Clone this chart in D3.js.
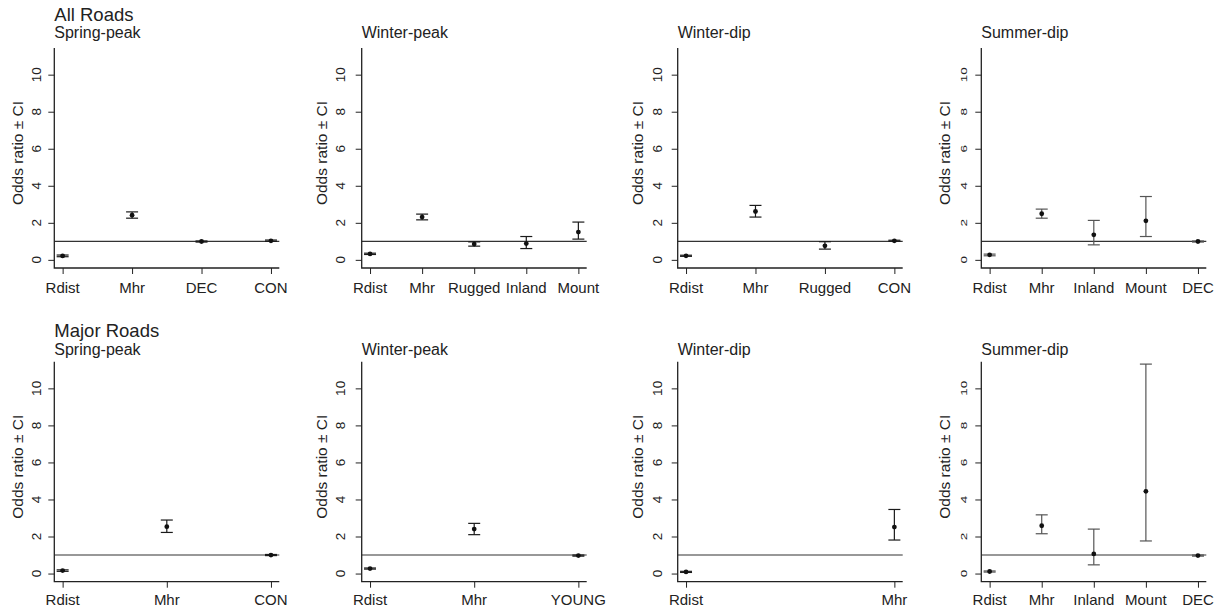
<!DOCTYPE html>
<html>
<head>
<meta charset="utf-8">
<script src="https://cdn.jsdelivr.net/npm/d3@7"></script>
<style>
  html, body { margin: 0; padding: 0; background: #fff; }
  svg { display: block; font-family: "Liberation Sans", Arial, sans-serif; }
</style>
</head>
<body>
<svg id="chart" width="1227" height="610"></svg>
<script>
// ---------- data ----------
const rowTitles = ["All Roads", "Major Roads"];
const panelNames = ["Spring-peak", "Winter-peak", "Winter-dip", "Summer-dip"];
const yTicks = [0, 2, 4, 6, 8, 10];
const yDomain = [-0.44, 11.44];
const refValue = 1;

// All roads
const allSpringCats = ["Rdist", "Mhr", "DEC", "CON"];
const allSpringOR   = [0.21, 2.41, 0.99, 1.03];
const allSpringLo   = [0.17, 2.25, 0.96, 1.00];
const allSpringHi   = [0.26, 2.59, 1.02, 1.07];

const allWPeakCats = ["Rdist", "Mhr", "Rugged", "Inland", "Mount"];
const allWPeakOR   = [0.32, 2.31, 0.85, 0.88, 1.50];
const allWPeakLo   = [0.29, 2.16, 0.74, 0.61, 1.12];
const allWPeakHi   = [0.36, 2.47, 0.97, 1.26, 2.04];

const allWDipCats = ["Rdist", "Mhr", "Rugged", "CON"];
const allWDipOR   = [0.22, 2.61, 0.76, 1.03];
const allWDipLo   = [0.19, 2.31, 0.58, 1.00];
const allWDipHi   = [0.25, 2.94, 0.98, 1.06];

const allSDipCats = ["Rdist", "Mhr", "Inland", "Mount", "DEC"];
const allSDipOR   = [0.27, 2.49, 1.35, 2.11, 0.99];
const allSDipLo   = [0.22, 2.25, 0.81, 1.26, 0.96];
const allSDipHi   = [0.31, 2.74, 2.13, 3.42, 1.02];

// Major roads
const majSpringCats = ["Rdist", "Mhr", "CON"];
const majSpringOR   = [0.16, 2.53, 1.00];
const majSpringLo   = [0.12, 2.22, 0.97];
const majSpringHi   = [0.20, 2.89, 1.03];

const majWPeakCats = ["Rdist", "Mhr", "YOUNG"];
const majWPeakOR   = [0.27, 2.40, 0.97];
const majWPeakLo   = [0.24, 2.10, 0.94];
const majWPeakHi   = [0.30, 2.71, 1.00];

const majWDipCats = ["Rdist", "Mhr"];
const majWDipOR   = [0.09, 2.51];
const majWDipLo   = [0.06, 1.81];
const majWDipHi   = [0.12, 3.46];

const majSDipCats = ["Rdist", "Mhr", "Inland", "Mount", "DEC"];
const majSDipOR   = [0.11, 2.58, 1.06, 4.44, 0.97];
const majSDipLo   = [0.08, 2.15, 0.47, 1.76, 0.94];
const majSDipHi   = [0.14, 3.17, 2.40, 11.31, 1.00];

// ---------- layout ----------
const colX = [54.3, 361.7, 677.7, 981.3];
const plotW = 225;
const rowY = [48, 361.7];
const plotH = 220;
const subBase = [37.5, 354.5];
const mainBase = [20.5, 336.5];
const xLabBase = [293, 605];
const tickLabOff = [13.5, 16.5, 15.5, 14];
const yTitleOff = [37, 40, 40.5, 37];

const panels = [
  [allSpringCats, allSpringOR, allSpringLo, allSpringHi],
  [allWPeakCats, allWPeakOR, allWPeakLo, allWPeakHi],
  [allWDipCats, allWDipOR, allWDipLo, allWDipHi],
  [allSDipCats, allSDipOR, allSDipLo, allSDipHi],
  [majSpringCats, majSpringOR, majSpringLo, majSpringHi],
  [majWPeakCats, majWPeakOR, majWPeakLo, majWPeakHi],
  [majWDipCats, majWDipOR, majWDipLo, majWDipHi],
  [majSDipCats, majSDipOR, majSDipLo, majSDipHi]
];

const svg = d3.select("#chart");

panels.forEach((p, i) => {
  const row = Math.floor(i / 4), col = i % 4;
  const [cats, or, lo, hi] = p;
  const n = cats.length;
  const x0 = colX[col], y0 = rowY[row];
  const ext = (n - 1) * 0.04 || 0.04;
  const x = d3.scaleLinear().domain([1 - ext, n + ext]).range([0, plotW]);
  const y = d3.scaleLinear().domain(yDomain).range([plotH, 0]);
  const barColor = col === 3 ? "#555" : "#1a1a1a";

  const g = svg.append("g").attr("transform", `translate(${x0},${y0})`);

  // titles
  if (col === 0) {
    svg.append("text").attr("x", x0).attr("y", mainBase[row])
      .attr("font-size", 18.5).attr("fill", "#222").text(rowTitles[row]);
  }
  svg.append("text").attr("x", x0).attr("y", subBase[row])
    .attr("font-size", 16).attr("fill", "#222").text(panelNames[col]);

  // reference line
  g.append("line")
    .attr("x1", 0).attr("x2", plotW)
    .attr("y1", y(refValue)).attr("y2", y(refValue))
    .attr("stroke", "#333").attr("stroke-width", 1.1);

  // axes
  const yAxis = d3.axisLeft(y).tickValues(yTicks).tickSize(6).tickFormat("");
  const ya = g.append("g").call(yAxis);
  ya.select(".domain").remove();
  ya.selectAll("line").attr("stroke", "#222").attr("stroke-width", 1);

  const xAxis = d3.axisBottom(x).tickValues(d3.range(1, n + 1)).tickSize(6).tickFormat("");
  const xa = g.append("g").attr("transform", `translate(0,${plotH})`).call(xAxis);
  xa.select(".domain").remove();
  xa.selectAll("line").attr("stroke", "#222").attr("stroke-width", 1);

  // L-shaped frame
  g.append("path")
    .attr("d", `M0,0V${plotH}H${plotW}`)
    .attr("fill", "none").attr("stroke", "#222").attr("stroke-width", 1.3);

  // y tick labels (rotated)
  const sx = col === 3 ? 0.7 : 1;
  yTicks.forEach(t => {
    g.append("text")
      .attr("transform", `translate(${-tickLabOff[col]},${y(t)}) scale(${sx},1) rotate(-90)`)
      .attr("text-anchor", "middle")
      .attr("font-size", 13.5).attr("fill", "#222")
      .text(t);
  });

  // y title
  g.append("text")
    .attr("transform", `translate(${-yTitleOff[col] + 5.5},${plotH / 2 - 5}) rotate(-90)`)
    .attr("text-anchor", "middle")
    .attr("font-size", 15.5).attr("fill", "#222")
    .text("Odds ratio \u00b1 CI");

  // x tick labels
  cats.forEach((c, k) => {
    g.append("text")
      .attr("x", x(k + 1)).attr("y", xLabBase[row] - y0)
      .attr("text-anchor", "middle")
      .attr("font-size", 15).attr("fill", "#222")
      .text(c);
  });

  // error bars
  const data = cats.map((c, k) => ({ k: k + 1, or: or[k], lo: lo[k], hi: hi[k] }));
  const eb = g.append("g").selectAll("g").data(data).join("g");
  eb.append("line")
    .attr("x1", d => x(d.k)).attr("x2", d => x(d.k))
    .attr("y1", d => y(d.lo)).attr("y2", d => y(d.hi))
    .attr("stroke", barColor).attr("stroke-width", 1.2);
  eb.append("line")
    .attr("x1", d => x(d.k) - 6).attr("x2", d => x(d.k) + 6)
    .attr("y1", d => y(d.lo)).attr("y2", d => y(d.lo))
    .attr("stroke", barColor).attr("stroke-width", 1.2);
  eb.append("line")
    .attr("x1", d => x(d.k) - 6).attr("x2", d => x(d.k) + 6)
    .attr("y1", d => y(d.hi)).attr("y2", d => y(d.hi))
    .attr("stroke", barColor).attr("stroke-width", 1.2);
  eb.append("circle")
    .attr("cx", d => x(d.k)).attr("cy", d => y(d.or))
    .attr("r", 2.4).attr("fill", "#111");
});
</script>
</body>
</html>
